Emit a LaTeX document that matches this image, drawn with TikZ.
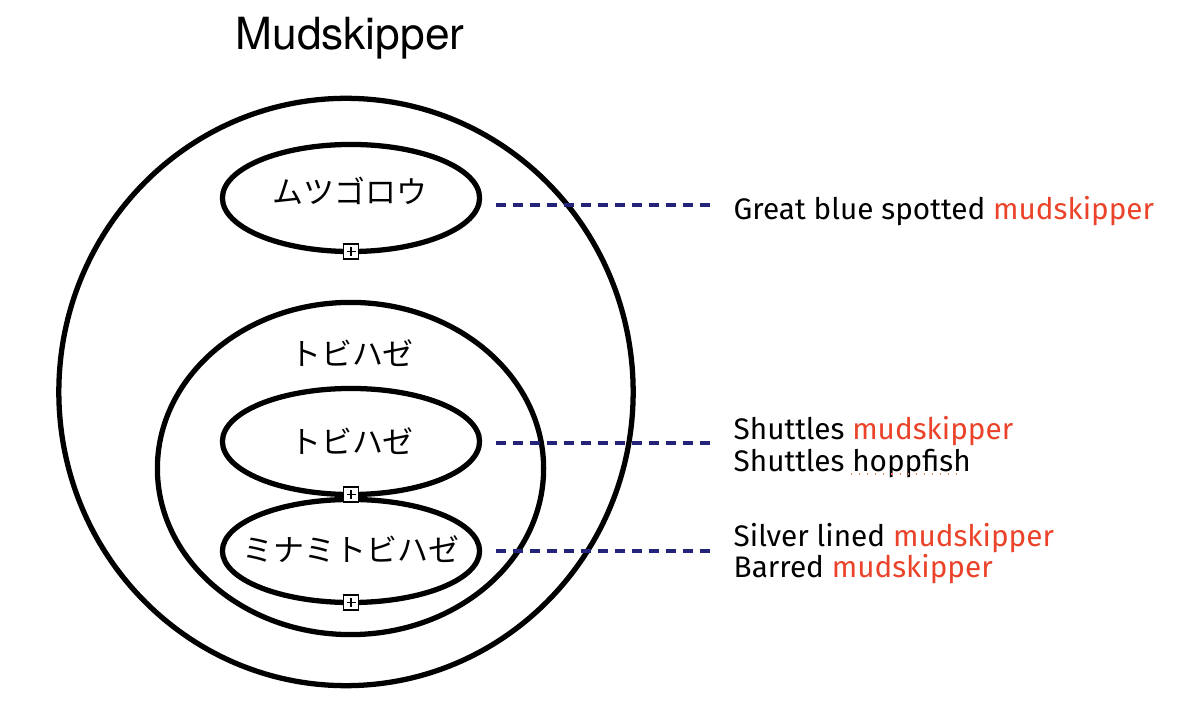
\documentclass[tikz,border=0pt]{standalone}
\usepackage{fontspec}
\usepackage{xcolor}
\setmainfont{Fira Sans}
\newfontfamily\jpfont{Noto Sans CJK JP}
\newfontfamily\titlefont{TeX Gyre Heros}
\usetikzlibrary{shapes.geometric}
\definecolor{skipred}{RGB}{234,67,42}
\definecolor{linknavy}{RGB}{35,35,122}

\begin{document}
\begin{tikzpicture}[x=0.01cm, y=-0.01cm,
    ring/.style={draw, ellipse, line width=1.5pt, inner sep=0pt, outer sep=0pt},
    plusbox/.style={draw, fill=white, line width=0.45pt, minimum size=0.15cm, inner sep=0pt,
      path picture={\draw[line width=0.45pt]
        ([yshift=-0.03cm]path picture bounding box.north) -- ([yshift=0.03cm]path picture bounding box.south)
        ([xshift=0.03cm]path picture bounding box.west) -- ([xshift=-0.03cm]path picture bounding box.east);}},
    link/.style={draw=linknavy, line width=1.1pt, dash pattern=on 0.1cm off 0.07cm, shorten <=0.16cm},
    jp/.style={font=\jpfont\fontsize{8.8pt}{10pt}\selectfont, inner sep=0pt},
    note/.style={font=\fontsize{8.45pt}{9pt}\selectfont, anchor=base west, inner sep=0pt}]
  \useasboundingbox (0,0) rectangle (1200,710);
  \node[font=\titlefont\fontsize{12.6pt}{14pt}\selectfont, inner sep=0pt] (title) at (350,38) {Mudskipper};
  \node[ring, minimum width=5.74cm, minimum height=5.87cm] (all) at (346,392) {};
  \node[ring, minimum width=2.57cm, minimum height=1.07cm] (e1) at (351,198) {};
  \node[ring, minimum width=3.86cm, minimum height=3.32cm] (tobi) at (350.5,468.5) {};
  \node[ring, minimum width=2.57cm, minimum height=1.06cm] (e2) at (351,441.5) {};
  \node[ring, minimum width=2.57cm, minimum height=1.03cm] (e3) at (351,551) {};
  \node[jp] (j1) at (350,191) {ムツゴロウ};
  \node[jp] (j0) at (352,353) {トビハゼ};
  \node[jp] (j2) at (352,441) {トビハゼ};
  \node[jp] (j3) at (351,549) {ミナミトビハゼ};
  \node[plusbox] (p1) at (e1.south) {};
  \node[plusbox] (p2) at (e2.south) {};
  \node[plusbox] (p3) at (e3.south) {};
  \node[note] (l1) at (733,220) {Great blue spotted \textcolor{skipred}{mudskipper}};
  \node[note] (l2) at (733,440) {Shuttles \textcolor{skipred}{mudskipper}};
  \node[note] (l3) at (733,472) {Shuttles hoppfish};
  \node[note] (l4) at (733,547) {Silver lined \textcolor{skipred}{mudskipper}};
  \node[note] (l5) at (733,578) {Barred \textcolor{skipred}{mudskipper}};
  \coordinate (g1) at (712,205);
  \coordinate (g2) at (712,443);
  \coordinate (g3) at (712,551);
  \draw[link] (e1.east |- g1) -- (g1);
  \draw[link] (e2.east |- g2) -- (g2);
  \draw[link] (e3.east |- g3) -- (g3);
  \draw[skipred!70, line width=0.3pt, dotted] (851,474) -- (961,474);
\end{tikzpicture}
\end{document}
